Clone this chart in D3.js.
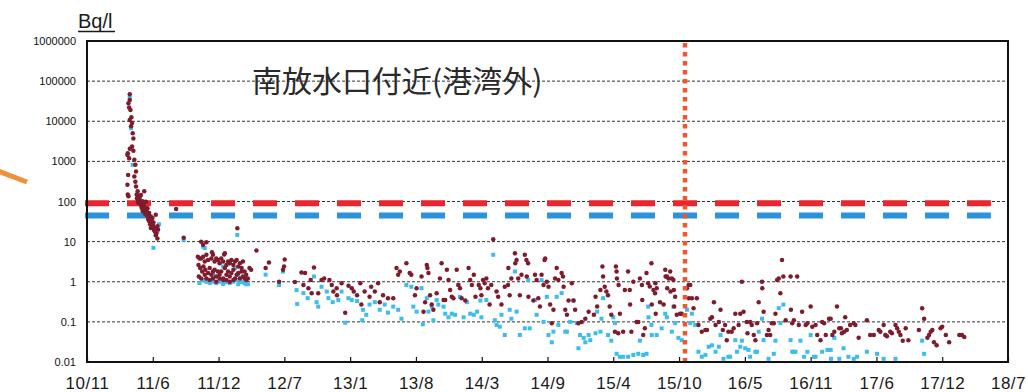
<!DOCTYPE html>
<html>
<head>
<meta charset="utf-8">
<script src="https://cdn.jsdelivr.net/npm/d3@7"></script>
<style>
  html, body { margin: 0; padding: 0; background: #fff; }
  svg { display: block; }
</style>
</head>
<body>
<svg id="chart" width="1028" height="392"></svg>
<script>
// Axis labels
const xTickLabels = ["10/11","11/6","11/12","12/7","13/1","13/8","14/3","14/9","15/4","15/10","16/5","16/11","17/6","17/12","18/7"];
const yTickValues = [1000000, 100000, 10000, 1000, 100, 10, 1, 0.1, 0.01];
const axisStart = "2010-11-17";      // first tick, ticks every 200 days
const tickStepDays = 200;

// Reference levels (Bq/l) and the span they are drawn over
const upperLimit = 90;
const lowerLimit = 45;
const limitSpan = ["2010-11-11", "2018-05-27"];

// Date marked by the dotted vertical line
const markerDate = "2015-11-09";

// Measured concentrations, Bq/l (dark series)
const cs137 = [
["2011-03-21",1600],["2011-03-21",150],["2011-03-20",1450],["2011-03-20",260],["2011-03-22",460],["2011-03-23",28000],["2011-03-23",135],
["2011-03-25",22000],["2011-03-25",1200],["2011-03-27",47000],["2011-03-27",34000],["2011-03-27",10800],["2011-03-27",2050],["2011-03-29",19000],
["2011-03-31",7500],["2011-04-01",12500],["2011-04-03",9000],["2011-04-03",2350],["2011-04-05",5000],["2011-04-07",3700],["2011-04-07",1830],
["2011-04-10",1090],["2011-04-10",420],["2011-04-13",820],["2011-04-13",310],["2011-04-15",560],["2011-04-15",235],["2011-04-20",180],
["2011-04-23",135],["2011-04-25",110],["2011-04-30",146],["2011-04-30",82],["2011-05-05",102],["2011-05-05",58],["2011-05-10",180],
["2011-05-10",75],["2011-05-15",98],["2011-05-15",62],["2011-05-20",68],["2011-05-25",52],["2011-05-25",32],["2011-05-30",42],["2011-05-30",22],
["2011-06-04",39],["2011-06-04",29],["2011-06-09",22],["2011-06-09",19.6],["2011-06-14",47],["2011-06-14",14.5],["2011-06-16",16],["2011-06-19",24],
["2011-06-19",12],["2011-04-18",120],["2011-04-22",95],["2011-04-27",88],["2011-05-02",70],["2011-05-08",64],["2011-05-12",50],["2011-05-18",45],
["2011-05-22",36],["2011-05-28",27],["2011-06-01",33],["2011-06-06",25],["2011-06-11",18],["2011-06-21",20],
["2011-04-17",150],["2011-04-21",105],["2011-04-26",125],["2011-05-01",92],["2011-05-04",80],["2011-05-07",85],["2011-05-11",66],["2011-05-14",55],
["2011-05-17",58],["2011-05-21",48],["2011-05-24",40],["2011-05-27",35],["2011-06-02",26],["2011-06-07",30],["2011-06-12",21],
["2011-08-15",65],["2011-09-07",12.5],
["2011-10-30",10],["2011-11-15",9.7],["2011-11-05",8.3],["2011-10-20",4.2],["2011-10-25",3.8],["2011-10-30",3.8],["2011-11-05",4.2],["2011-11-10",3.2],
["2011-11-20",3.5],["2011-11-30",3.8],["2011-12-05",4.7],["2011-12-10",3.2],["2011-12-15",3.8],["2011-12-20",3.5],["2011-12-25",2.9],["2011-12-30",3.8],
["2012-01-05",3.2],["2012-01-10",5.1],["2012-01-15",2.6],["2012-01-20",3.2],["2012-01-25",2.9],["2012-01-30",3.5],["2012-02-05",2.6],["2012-02-10",3.2],
["2012-02-15",3.5],["2012-02-20",2.4],["2012-02-25",2.9],["2012-03-01",2.2],["2012-03-05",3.2],["2012-03-10",1.8],["2012-03-15",1.5],["2012-03-20",1.2],
["2012-03-25",2.2],["2012-03-30",2.0],["2011-10-22",2.6],["2011-10-27",2.2],["2011-11-02",1.8],["2011-11-06",2.4],["2011-11-12",2.0],["2011-11-20",1.66],
["2011-11-25",2.2],["2011-11-30",1.5],["2011-12-05",1.8],["2011-12-10",2.0],["2011-12-15",1.35],["2011-12-20",1.8],["2011-12-25",1.5],["2011-12-30",1.8],
["2012-01-05",1.2],["2012-01-10",2.2],["2012-01-15",1.5],["2012-01-20",1.8],["2012-01-25",1.35],["2012-01-30",1.66],["2012-02-05",2.0],["2012-02-10",1.2],
["2012-02-15",1.5],["2012-02-20",1.66],["2012-02-25",1.2],["2012-03-05",1.35],["2012-03-10",1.2],["2012-03-15",1.1],["2011-10-23",1.35],["2011-10-30",1.2],
["2011-11-10",1.5],["2011-11-15",1.2],["2011-11-25",1.1],["2011-12-05",1.2],["2011-12-15",1.0],["2011-12-25",1.2],["2012-01-05",1.1],["2012-01-15",1.1],
["2012-01-25",1.0],["2012-02-05",1.1],["2012-03-01",1.8],["2011-12-02",5.4],["2012-01-08",4.8],["2011-11-15",4.7],
["2012-02-17",21.5],["2012-04-15",6.0],["2012-05-13",2.2],["2012-05-23",3.0],["2012-06-23",1.0],["2012-07-05",2.0],["2012-07-08",2.4],["2012-07-10",3.6],
["2012-08-10",0.98],["2012-08-30",1.7],["2012-09-10",1.66],["2012-09-05",0.83],["2012-09-20",0.69],["2012-09-27",1.1],["2012-10-07",2.25],["2012-09-30",0.52],
["2012-10-20",0.52],["2012-10-30",1.1],["2012-11-07",1.2],["2012-11-23",1.1],["2012-11-30",0.83],["2012-12-05",0.57],["2012-12-15",0.69],["2012-12-16",0.46],
["2012-12-30",0.92],["2013-01-10",0.17],["2013-01-20",0.79],["2013-01-30",0.69],["2013-02-05",0.57],["2013-02-15",0.46],["2013-02-25",0.92],["2013-02-28",0.27],
["2013-03-10",0.57],["2013-03-25",0.42],["2013-03-30",0.75],["2013-04-10",0.57],["2013-04-20",0.92],["2013-04-25",0.31],["2013-05-05",0.46],["2013-05-20",0.39],
["2013-06-05",0.39],["2013-06-15",2.2],["2013-06-20",1.5],["2013-06-25",1.8],["2013-07-15",2.9],
["2013-07-25",1.66],["2013-07-30",1.5],["2013-08-10",0.46],["2013-08-15",0.69],["2013-08-30",1.35],["2013-09-05",0.18],["2013-09-10",0.31],["2013-09-15",2.6],
["2013-09-17",2.2],["2013-09-20",1.66],["2013-09-25",0.46],["2013-09-30",0.27],["2013-10-05",0.2],["2013-10-15",0.52],["2013-10-25",1.2],["2013-10-30",2.9],
["2013-11-05",0.35],["2013-11-10",0.35],["2013-11-15",2.0],["2013-11-20",1.1],["2013-11-25",0.62],["2013-11-30",0.42],["2013-12-05",0.39],["2013-12-15",2.0],
["2013-12-20",0.83],["2013-12-25",0.69],["2013-12-30",0.39],["2014-01-10",0.34],["2014-01-20",2.2],["2014-01-25",1.1],["2014-01-30",0.83],["2014-02-05",1.5],
["2014-02-10",0.42],["2014-02-20",0.83],["2014-02-25",0.69],["2014-02-28",0.46],["2014-03-05",1.1],["2014-03-10",0.92],["2014-03-15",1.2],["2014-03-20",0.69],
["2014-03-25",0.27],["2014-03-30",0.83],["2014-04-05",11.5],["2014-04-15",0.57],["2014-04-20",0.42],["2014-04-30",0.27],["2014-05-10",0.75],["2014-05-20",0.83],
["2014-05-21",2.2],["2014-05-25",0.46],["2014-05-30",1.2],["2014-06-10",5.1],["2014-06-11",2.9],["2014-06-15",3.5],["2014-06-20",1.2],["2014-06-25",0.46],
["2014-06-30",1.5],["2014-07-10",4.7],["2014-07-15",3.5],["2014-07-20",2.9],["2014-07-16",1.35],["2014-07-21",0.42],["2014-08-05",0.34],["2014-08-10",1.5],
["2014-08-15",1.1],["2014-08-20",0.39],["2014-08-25",0.24],["2014-08-30",1.5],["2014-09-05",0.83],["2014-09-08",3.5],["2014-09-10",3.8],["2014-09-15",1.0],
["2014-09-20",0.75],["2014-09-25",0.27],["2014-09-30",0.093],["2014-10-05",0.2],["2014-10-10",1.2],["2014-10-15",2.2],["2014-10-20",1.1],["2014-10-30",1.66],
["2014-11-03",1.35],["2014-11-05",0.75],["2014-11-10",0.2],["2014-11-15",0.15],["2014-11-20",0.34],["2014-11-30",0.92],["2014-12-05",0.34],["2014-12-10",0.2],
["2014-12-20",0.093],["2014-12-30",0.1],["2015-01-10",0.12],["2015-01-20",0.18],["2015-02-05",0.15],["2015-02-10",0.42],["2015-02-15",0.24],["2015-02-25",0.62],
["2015-03-03",2.4],["2015-03-05",1.35],["2015-03-10",0.75],["2015-03-15",0.57],["2015-03-20",0.46],["2015-03-25",0.24],["2015-03-30",0.15],["2015-04-10",0.057],
["2015-04-20",0.052],["2015-04-13",2.4],["2015-04-15",1.8],["2015-04-16",1.2],["2015-04-21",0.83],["2015-04-25",0.16],["2015-05-05",0.057],["2015-05-10",0.62],
["2015-05-20",1.8],["2015-05-25",0.62],["2015-05-26",0.27],["2015-05-30",0.057],["2015-06-05",1.0],["2015-06-15",0.1],["2015-06-20",0.1],["2015-06-25",1.2],
["2015-07-05",0.047],["2015-07-10",0.069],["2015-07-15",1.66],["2015-07-20",0.92],
["2015-07-01",0.83],["2015-07-02",0.35],["2015-07-25",0.76],["2015-07-30",2.9],["2015-07-31",0.27],["2015-08-05",0.62],["2015-08-10",0.52],["2015-08-11",0.92],
["2015-08-12",0.16],["2015-08-15",0.69],["2015-08-25",0.31],["2015-09-05",0.27],["2015-09-10",2.0],["2015-09-11",1.35],["2015-09-15",1.35],["2015-09-16",0.69],
["2015-09-20",1.2],["2015-09-25",1.8],["2015-09-26",0.57],["2015-09-30",1.2],["2015-10-05",1.1],["2015-10-06",0.62],["2015-10-07",0.24],["2015-10-10",0.42],
["2015-10-15",0.15],["2015-10-25",0.16],["2015-10-30",0.16],["2015-11-15",0.69],["2015-11-20",0.83],["2015-11-25",0.83],["2015-11-21",0.39],["2015-11-30",0.39],
["2015-12-15",0.39],["2015-12-05",0.22],["2015-12-20",0.084],["2015-12-30",0.057],["2016-01-10",0.063],["2016-01-15",0.063],["2016-01-25",0.12],["2016-01-30",0.13],
["2016-02-05",0.31],["2016-02-10",0.084],["2016-02-20",0.1],["2016-02-25",0.2],["2016-03-03",0.063],["2016-03-10",0.084],["2016-03-15",0.035],["2016-03-20",0.057],
["2016-03-30",0.057],["2016-04-05",0.069],["2016-04-10",0.16],["2016-04-25",0.16],["2016-04-20",0.084],["2016-04-30",1.0],["2016-05-05",0.18],["2016-05-15",0.1],
["2016-05-25",0.1],["2016-05-17",0.052],["2016-05-30",0.084],["2016-06-05",0.047],["2016-06-10",0.035],["2016-06-15",0.093],["2016-06-20",0.31],["2016-06-30",1.0],
["2016-07-01",0.69],["2016-07-05",0.18],["2016-07-15",0.047],["2016-07-20",0.063],["2016-07-25",0.047],["2016-07-30",0.093],["2016-08-05",0.093],["2016-08-10",0.16],
["2016-08-15",1.1],["2016-08-20",1.2],["2016-08-25",0.52],["2016-08-30",3.5],["2016-09-03",1.35],["2016-09-10",0.11],["2016-09-25",1.35],["2016-09-26",0.2],
["2016-09-30",0.093],["2016-10-05",0.11],["2016-10-15",1.35],["2016-10-20",0.084],["2016-10-30",0.18],["2016-11-10",0.084],["2016-11-15",0.093],["2016-11-25",0.24],
["2016-11-30",0.076],["2016-12-10",0.084],["2016-12-15",0.047],["2016-12-25",0.035],["2016-12-30",0.1],["2017-01-05",0.093],["2017-01-10",0.047],["2017-01-20",0.12],
["2017-01-25",0.12],["2017-01-30",0.047],["2017-02-05",0.057],["2017-02-13",0.24],["2017-02-20",0.069],["2017-02-25",0.069],["2017-02-28",0.052],["2017-03-07",0.057],
["2017-03-10",0.13],["2017-03-15",0.063],["2017-03-25",0.084],["2017-04-05",0.093],["2017-04-10",0.084],["2017-04-20",0.04],["2017-05-15",0.11],["2017-05-25",0.047],
["2017-06-05",0.047],["2017-06-20",0.063],["2017-06-25",0.057],["2017-07-05",0.084],["2017-07-10",0.047],["2017-07-15",0.044],["2017-07-25",0.057],["2017-07-30",0.052],
["2017-08-10",0.084],["2017-08-15",0.069],["2017-08-20",0.057],["2017-08-25",0.047],["2017-09-01",0.034],["2017-09-10",0.069],["2017-09-18",0.035],["2017-10-20",0.063],
["2017-10-30",0.22],["2017-11-05",0.12],["2017-11-15",0.04],["2017-11-20",0.047],["2017-11-25",0.057],["2017-11-30",0.063],["2017-12-05",0.031],["2017-12-13",0.026],
["2017-12-25",0.069],["2017-12-30",0.076],["2018-01-10",0.047],["2018-01-20",0.031],["2018-02-20",0.047],["2018-02-28",0.047],["2018-03-07",0.042]
];

// Measured concentrations, Bq/l (light series)
const cs134 = [
["2011-03-27",38000],["2011-03-31",6700],["2011-04-03",2100],["2011-04-05",820],["2011-04-20",146],["2011-05-15",68],["2011-06-04",27],["2011-06-24",27],
["2011-06-07",7.0],["2011-06-19",18],["2011-09-07",11],
["2011-10-25",0.93],["2011-11-05",1.1],["2011-11-15",1.0],["2011-11-25",0.93],["2011-12-05",1.0],["2011-12-15",0.93],["2011-12-25",1.0],["2012-01-05",0.88],
["2012-01-15",0.98],["2012-01-25",0.93],["2012-02-05",1.0],["2012-02-15",1.1],["2012-02-20",0.87],["2012-03-01",0.98],["2012-03-10",0.93],["2012-03-15",0.87],
["2012-03-20",0.87],["2011-11-05",7.5],["2011-11-10",6.9],["2012-01-05",2.4],["2012-02-10",2.2],["2012-02-20",1.5],["2011-12-05",1.5],
["2012-02-17",14.7],["2012-05-13",1.5],["2012-07-05",1.8],["2012-06-23",0.83],
["2012-08-15",0.62],["2012-08-17",0.28],["2012-09-05",0.52],["2012-09-18",0.39],["2012-10-07",1.35],["2012-10-15",0.31],["2012-10-20",0.24],["2012-10-30",0.75],
["2012-11-15",0.57],["2012-11-20",0.39],["2012-12-03",0.31],["2012-12-20",0.35],["2012-12-30",0.57],["2013-01-10",0.095],["2013-01-20",0.39],["2013-01-30",0.35],
["2013-02-15",0.33],["2013-03-05",0.2],["2013-03-03",0.11],["2013-03-15",0.15],["2013-03-25",0.27],["2013-04-10",0.31],["2013-04-25",0.2],["2013-05-10",0.27],
["2013-05-20",0.17],["2013-06-05",0.24],["2013-06-20",0.2],["2013-06-30",0.12],["2013-07-15",0.83],
["2013-07-30",0.75],["2013-08-05",0.24],["2013-08-15",0.18],["2013-08-30",0.69],["2013-09-03",0.087],["2013-09-15",0.39],["2013-09-20",0.18],["2013-09-30",0.24],
["2013-10-05",0.11],["2013-10-15",0.35],["2013-10-20",0.27],["2013-11-05",0.24],["2013-11-10",0.16],["2013-11-20",0.13],["2013-11-30",0.16],["2013-12-10",0.15],
["2013-12-20",0.83],["2013-12-25",0.42],["2014-01-05",0.13],["2014-01-15",0.31],["2014-01-25",0.16],["2014-02-05",0.15],["2014-02-15",0.18],["2014-02-25",0.34],
["2014-02-28",0.13],["2014-03-15",0.35],["2014-04-05",4.7],["2014-04-10",0.11],["2014-04-15",0.084],["2014-04-25",0.076],["2014-04-30",0.15],["2014-05-10",0.047],
["2014-05-25",0.2],["2014-05-30",0.12],["2014-06-10",1.8],["2014-06-15",0.18],["2014-06-25",0.047],["2014-07-10",0.069],["2014-07-20",1.1],["2014-07-25",0.069],
["2014-08-10",0.35],["2014-08-15",0.15],["2014-08-30",1.1],["2014-09-05",0.1],["2014-09-15",0.42],["2014-09-20",0.047],["2014-09-30",0.031],["2014-10-05",0.057],
["2014-10-15",0.42],["2014-10-20",0.084],["2014-10-30",0.52],["2014-11-10",0.057],["2014-11-15",0.057],["2014-11-25",0.1],["2014-12-05",0.34],["2014-12-15",0.093],
["2014-12-20",0.022],["2014-12-25",0.047],["2015-01-05",0.04],["2015-01-10",0.031],["2015-01-20",0.047],["2015-01-25",0.035],["2015-02-10",0.052],["2015-02-15",0.18],
["2015-02-25",0.057],["2015-02-28",0.12],["2015-03-05",0.39],["2015-03-20",0.047],["2015-03-30",0.034],["2015-04-05",0.13],["2015-04-10",0.093],["2015-04-15",0.016],
["2015-04-25",0.0135],["2015-05-05",0.0135],["2015-05-20",0.0135],["2015-06-05",0.015],["2015-06-20",0.016],["2015-06-25",0.034],["2015-07-05",0.015],["2015-07-15",0.016],
["2015-07-20",0.24],["2015-07-21",0.13],["2015-07-30",0.084],["2015-07-31",0.047],["2015-08-15",0.047],["2015-08-30",0.069],["2015-09-10",0.16],["2015-09-15",0.13],
["2015-09-30",0.057],["2015-10-05",0.24],["2015-10-10",0.093],["2015-10-20",0.04],["2015-10-30",0.035],["2015-11-15",0.2],["2015-11-30",0.16],["2015-11-25",0.093],
["2015-12-10",0.084],["2015-12-20",0.018],["2015-12-30",0.0135],["2016-01-10",0.015],["2016-01-20",0.024],["2016-01-30",0.026],["2016-02-10",0.018],["2016-02-20",0.024],
["2016-02-25",0.047],["2016-03-05",0.012],["2016-03-20",0.0135],["2016-03-25",0.0135],["2016-04-10",0.035],["2016-04-15",0.018],["2016-04-30",0.034],["2016-04-25",0.024],
["2016-05-10",0.022],["2016-05-20",0.02],["2016-05-25",0.0135],["2016-06-10",0.018],["2016-06-15",0.018],["2016-06-20",0.057],["2016-06-30",0.12],["2016-07-05",0.035],
["2016-07-20",0.012],["2016-08-05",0.016],["2016-08-10",0.034],["2016-08-20",0.22],["2016-09-03",0.27],["2016-08-25",0.093],["2016-09-25",0.035],["2016-09-30",0.018],
["2016-10-05",0.018],["2016-10-10",0.018],["2016-10-25",0.034],["2016-11-05",0.0135],["2016-11-15",0.018],["2016-11-25",0.047],["2016-12-05",0.0135],["2016-12-10",0.0135],
["2016-12-30",0.018],["2017-01-15",0.02],["2017-01-25",0.02],["2017-01-26",0.012],["2017-02-05",0.04],["2017-02-20",0.012],["2017-03-05",0.022],["2017-03-20",0.0135],
["2017-04-05",0.012],["2017-04-15",0.0135],["2017-05-15",0.018],["2017-06-15",0.016],["2017-07-05",0.012],["2017-08-10",0.012],["2017-10-30",0.034],["2017-11-05",0.016]
];

const parse = d3.timeParse("%Y-%m-%d");
const svg = d3.select("#chart");

const plot = { left: 87, right: 1008, top: 41, bottom: 362 };

const start = parse(axisStart);
const tickDates = xTickLabels.map((_, i) => d3.timeDay.offset(start, tickStepDays * i));

const x = d3.scaleTime()
  .domain([tickDates[0], tickDates[tickDates.length - 1]])
  .range([plot.left, plot.right]);

const y = d3.scaleLog()
  .domain([0.01, 1000000])
  .range([plot.bottom, plot.top]);

// Horizontal dashed gridlines at each decade
svg.append("g")
  .selectAll("line")
  .data(yTickValues.filter(v => v > 0.01 && v < 1000000))
  .join("line")
  .attr("x1", plot.left).attr("x2", plot.right)
  .attr("y1", d => y(d)).attr("y2", d => y(d))
  .attr("stroke", "#333")
  .attr("stroke-width", 1)
  .attr("stroke-dasharray", "3,2");

// Y axis labels
const yAxis = d3.axisLeft(y)
  .tickValues(yTickValues)
  .tickSize(0)
  .tickPadding(11)
  .tickFormat(d => String(d));
const gy = svg.append("g")
  .attr("transform", `translate(${plot.left},0)`)
  .call(yAxis);
gy.select(".domain").remove();
gy.selectAll("text")
  .attr("font-family", "'Liberation Sans', Arial, sans-serif")
  .attr("font-size", 11)
  .attr("fill", "#111");

// X axis with ticks pointing into the plot
const xAxis = d3.axisBottom(x)
  .tickValues(tickDates)
  .tickSizeInner(-5)
  .tickSizeOuter(0)
  .tickPadding(15)
  .tickFormat((d, i) => xTickLabels[i]);
const gx = svg.append("g")
  .attr("transform", `translate(0,${plot.bottom})`)
  .call(xAxis);
gx.select(".domain").remove();
gx.selectAll(".tick line").attr("stroke", "#111").attr("stroke-width", 1.2);
gx.selectAll("text")
  .attr("font-family", "'Liberation Sans', Arial, sans-serif")
  .attr("font-size", 17)
  .attr("letter-spacing", 0.5)
  .attr("fill", "#1a1a1a");

// Reference level bars
const limits = [
  { value: upperLimit, color: "#e8262e" },
  { value: lowerLimit, color: "#2a93dc" }
];
svg.append("g")
  .selectAll("line")
  .data(limits)
  .join("line")
  .attr("x1", x(parse(limitSpan[0])))
  .attr("x2", x(parse(limitSpan[1])))
  .attr("y1", d => y(d.value))
  .attr("y2", d => y(d.value))
  .attr("stroke", d => d.color)
  .attr("stroke-width", 6)
  .attr("stroke-dasharray", "24,18");

// Light series: small squares
const sq = 4;
svg.append("g")
  .selectAll("rect")
  .data(cs134)
  .join("rect")
  .attr("x", d => x(parse(d[0])) - sq / 2)
  .attr("y", d => y(d[1]) - sq / 2)
  .attr("width", sq)
  .attr("height", sq)
  .attr("fill", "#3dbdee");

// Dark series: small dots
svg.append("g")
  .selectAll("circle")
  .data(cs137)
  .join("circle")
  .attr("cx", d => x(parse(d[0])))
  .attr("cy", d => y(d[1]))
  .attr("r", 2.25)
  .attr("fill", "#7e1c2e");

// Dotted vertical marker
const mx = x(parse(markerDate));
svg.append("line")
  .attr("x1", mx).attr("x2", mx)
  .attr("y1", plot.top + 2).attr("y2", plot.bottom)
  .attr("stroke", "#f0582a")
  .attr("stroke-width", 4.5)
  .attr("stroke-dasharray", "4.5,4.5");

// Plot frame
svg.append("rect")
  .attr("x", plot.left).attr("y", plot.top)
  .attr("width", plot.right - plot.left)
  .attr("height", plot.bottom - plot.top)
  .attr("fill", "none")
  .attr("stroke", "#111")
  .attr("stroke-width", 2);

// Unit label
svg.append("text")
  .attr("x", 78).attr("y", 28)
  .attr("font-family", "'Liberation Sans', Arial, sans-serif")
  .attr("font-size", 20)
  .attr("fill", "#1a1a1a")
  .text("Bq/l");
svg.append("line")
  .attr("x1", 78).attr("x2", 115)
  .attr("y1", 31.5).attr("y2", 31.5)
  .attr("stroke", "#1a1a1a")
  .attr("stroke-width", 1.5);

// Title
svg.append("text")
  .attr("x", 252).attr("y", 92)
  .attr("font-family", "'Noto Sans CJK JP', 'Noto Sans CJK SC', sans-serif")
  .attr("font-size", 30)
  .attr("fill", "#2a2a2a")
  .text("南放水口付近(港湾外)");

// Orange pointer stroke at the left edge
svg.append("line")
  .attr("x1", -2).attr("y1", 171)
  .attr("x2", 27).attr("y2", 182)
  .attr("stroke", "#f0903a")
  .attr("stroke-width", 5);
</script>
</body>
</html>
